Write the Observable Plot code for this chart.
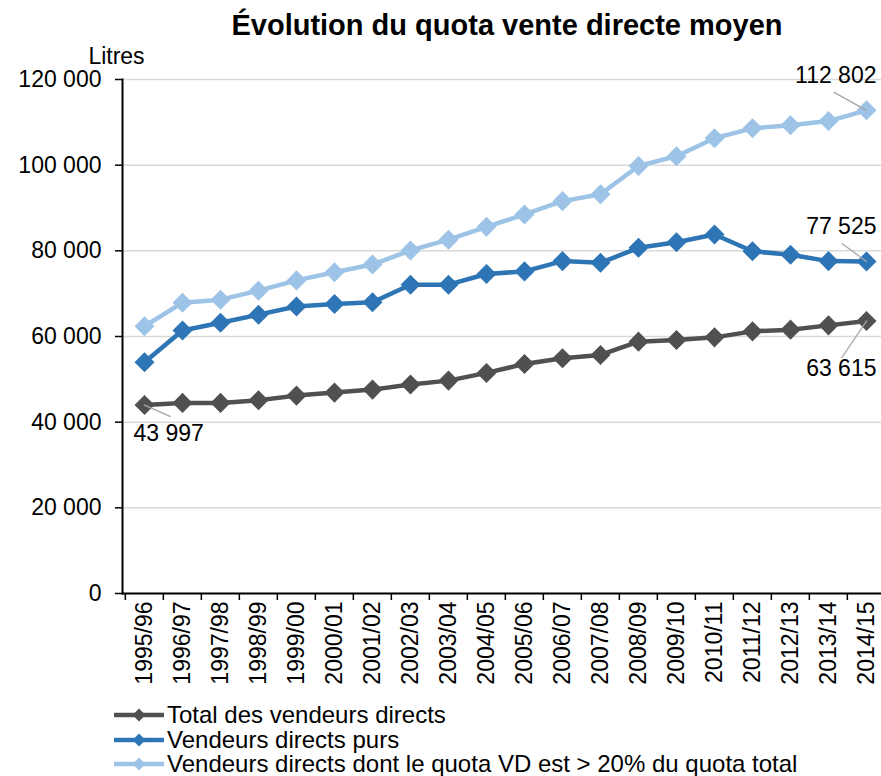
<!DOCTYPE html>
<html>
<head>
<meta charset="utf-8">
<script src="https://cdn.jsdelivr.net/npm/d3@7"></script>
<script src="https://cdn.jsdelivr.net/npm/@observablehq/plot@0.6"></script>
<style>
  body { margin: 0; background: #fff; font-family: "Liberation Sans", Arial, sans-serif; color: #000; }
  #title { box-sizing: border-box; width: 881px; height: 44px; padding-top: 11px; padding-left: 133px;
           text-align: center; font-weight: bold; font-size: 29px; line-height: 28px; white-space: nowrap; }
  #chart svg { display: block; overflow: visible; }
  #legend { margin-left: 114px; font-size: 24px; line-height: 24px; }
  .item { display: flex; align-items: center; height: 24.5px; white-space: nowrap; }
  .item svg { display: block; margin-right: 3px; }
</style>
</head>
<body>
<div id="title">Évolution du quota vente directe moyen</div>
<div id="chart"></div>
<div id="legend"></div>
<script>
const categories = ["1995/96","1996/97","1997/98","1998/99","1999/00","2000/01","2001/02","2002/03","2003/04","2004/05",
                    "2005/06","2006/07","2007/08","2008/09","2009/10","2010/11","2011/12","2012/13","2013/14","2014/15"];
const seriesNames = ["Total des vendeurs directs", "Vendeurs directs purs", "Vendeurs directs dont le quota VD est > 20% du quota total"];
const totalValues = [43997, 44500, 44500, 45100, 46200, 46900, 47600, 48800, 49700, 51500,
                     53600, 54900, 55700, 58800, 59200, 59800, 61200, 61600, 62600, 63615];
const pursValues  = [54000, 61400, 63200, 65100, 67000, 67600, 68000, 72100, 72100, 74600,
                     75200, 77600, 77200, 80700, 82000, 83800, 79900, 79100, 77600, 77525];
const vd20Values  = [62400, 67900, 68600, 70700, 73100, 75000, 76800, 80100, 82600, 85600,
                     88500, 91600, 93200, 99800, 102100, 106300, 108600, 109300, 110300, 112802];
const yTicks = [0, 20000, 40000, 60000, 80000, 100000, 120000];
const colors = ["#505050", "#2e75b6", "#9dc3e6"];

const valueSets = [totalValues, pursValues, vd20Values];
const rows = [];
seriesNames.forEach((s, k) => categories.forEach((c, i) => rows.push({series: s, cat: c, value: valueSets[k][i]})));
const pick = (k, i) => rows.find(r => r.series === seriesNames[k] && r.cat === categories[i]);

const fmt = d => d3.format(",")(d).replace(/,/g, " ");
const xRange = [122, 888];
const bw = (xRange[1] - xRange[0]) / categories.length;

const leaderShape = {draw(ctx, l) { ctx.moveTo(0, 0); ctx.lineTo(0, -l); }};
function annotate(k, i, o) {
  const d = [pick(k, i)];
  return [
    Plot.vector(d, {x: "cat", y: "value", rotate: o.angle, length: o.len, anchor: "start",
                    stroke: "#a6a6a6", strokeWidth: 1.3, shape: leaderShape}),
    Plot.text(d, {x: "cat", y: "value", text: r => fmt(r.value), dx: o.dx, dy: o.dy,
                  textAnchor: o.anchor, fill: "#000", fontSize: 23})
  ];
}

const chart = Plot.plot({
  width: 881, height: 659,
  marginTop: 35, marginBottom: 110, marginLeft: 122, marginRight: 0,
  style: {fontFamily: "'Liberation Sans', Arial, sans-serif", fontSize: "23px", background: "white", color: "black"},
  x: {type: "band", domain: categories, range: xRange, padding: 0},
  y: {domain: [0, 120000]},
  color: {domain: seriesNames, range: colors},
  marks: [
    Plot.gridY(yTicks, {stroke: "#d9d9d9", strokeOpacity: 1, strokeWidth: 1.5}),
    Plot.axisY(yTicks, {tickSize: 7, tickPadding: 14, tickFormat: fmt, label: null, stroke: "black", strokeWidth: 1.5, fontSize: 23}),
    Plot.axisX({tickSize: 0, tickPadding: 8, tickRotate: -90, label: null, fontSize: 23}),
    Plot.axisX({tickSize: 7, text: null, label: null, dx: -bw / 2, stroke: "black", strokeWidth: 1.5}),
    Plot.ruleY([0], {stroke: "black", strokeWidth: 2}),
    Plot.frame({anchor: "left", stroke: "black", strokeWidth: 2}),
    Plot.text(["Litres"], {frameAnchor: "top-left", dx: -6, dy: -32, textAnchor: "middle", fontSize: 23, fill: "black"}),
    Plot.line(rows, {x: "cat", y: "value", z: "series", stroke: "series", strokeWidth: 4.5}),
    Plot.dot(rows, {x: "cat", y: "value", fill: "series", symbol: "square", rotate: 45, r: 8}),
    ...annotate(0, 0, {angle: 114, len: 28, dx: -11, dy: 29, anchor: "start"}),
    ...annotate(0, 19, {angle: -146, len: 44, dx: 10, dy: 48, anchor: "end"}),
    ...annotate(1, 19, {angle: -54, len: 30, dx: 10, dy: -35, anchor: "end"}),
    ...annotate(2, 19, {angle: -61, len: 37, dx: 10, dy: -35, anchor: "end"})
  ]
});
document.getElementById("chart").appendChild(chart);

const legend = document.getElementById("legend");
seriesNames.forEach((s, k) => {
  const item = document.createElement("div");
  item.className = "item";
  item.innerHTML = `<svg width="50" height="24"><line x1="0" x2="50" y1="12" y2="12" stroke="${colors[k]}" stroke-width="4.5"/>` +
    `<path d="M25,5.5 L31.5,12 L25,18.5 L18.5,12 Z" fill="${colors[k]}"/></svg><span>${s}</span>`;
  legend.appendChild(item);
});
</script>
</body>
</html>
